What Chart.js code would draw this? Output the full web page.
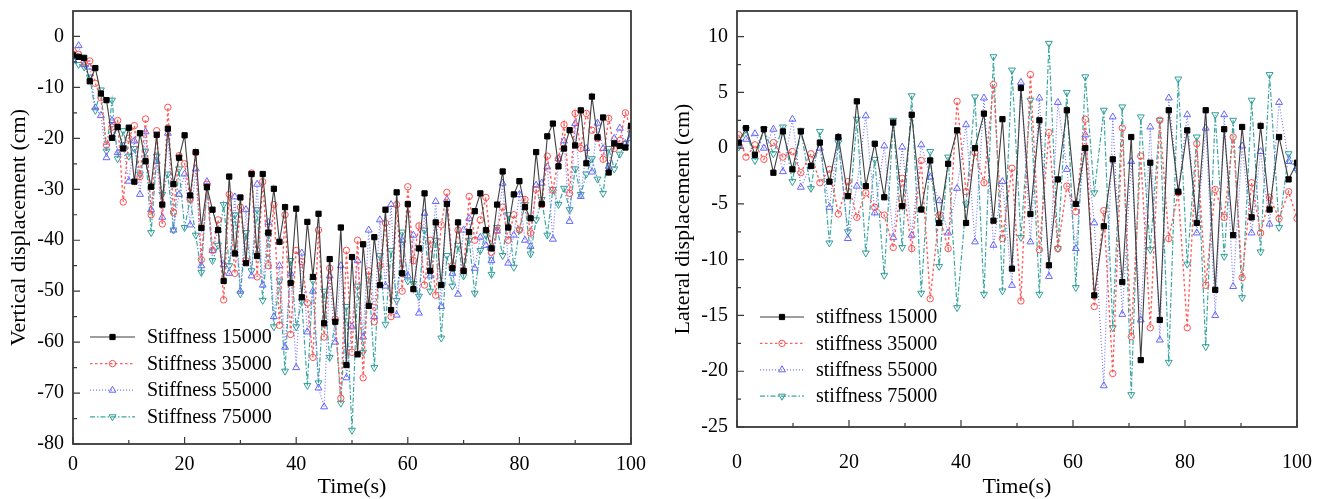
<!DOCTYPE html>
<html>
<head>
<meta charset="utf-8">
<script src="https://cdn.jsdelivr.net/npm/chart.js@4.4.0/dist/chart.umd.min.js"></script>
<style>
  html, body { margin: 0; padding: 0; background: #fff; }
  #wrap { position: relative; width: 1324px; height: 499px; }
  .panel { position: absolute; top: 0; height: 499px; }
  #left { left: 0; width: 660px; }
  #right { left: 660px; width: 664px; }
</style>
</head>
<body>
<div id="wrap">
  <div class="panel" id="left"><canvas id="cvVert" width="660" height="499"></canvas></div>
  <div class="panel" id="right"><canvas id="cvLat" width="664" height="499"></canvas></div>
</div>
<script>
/* ---------- vertical displacement (left panel) ---------- */
const timeVert = [0,1,2,3,4,5,6,7,8,9,10,11,12,13,14,15,16,17,18,19,20,21,22,23,24,25,26,27,28,29,30,
  31,32,33,34,35,36,37,38,39,40,41,42,43,44,45,46,47,48,49,50,51,52,53,54,55,56,57,58,59,60,
  61,62,63,64,65,66,67,68,69,70,71,72,73,74,75,76,77,78,79,80,81,82,83,84,85,86,87,88,89,90,
  91,92,93,94,95,96,97,98,99,100];

const vert15000 = [-3.7,-4.0,-4.2,-8.8,-6.2,-11.2,-12.5,-19.9,-17.8,-22.0,
  -17.9,-28.5,-19.0,-24.5,-29.5,-19.3,-33.0,-18.1,-29.0,-23.8,
  -19.4,-31.2,-22.7,-37.6,-29.6,-34.0,-38.0,-48.0,-27.5,-42.6,
  -31.6,-44.5,-27.0,-43.1,-27.0,-38.5,-29.9,-40.3,-33.5,-48.4,
  -33.8,-51.2,-36.4,-47.2,-34.8,-56.3,-43.7,-56.0,-37.5,-64.5,
  -43.3,-62.4,-40.8,-52.9,-39.4,-48.8,-34.0,-53.7,-30.6,-46.5,
  -32.9,-49.6,-41.6,-30.8,-46.0,-36.5,-48.8,-32.9,-45.5,-36.5,
  -46.0,-38.4,-34.3,-30.8,-38.0,-41.6,-33.0,-26.5,-37.5,-31.0,
  -28.4,-33.5,-35.7,-22.7,-32.9,-19.6,-17.1,-25.5,-22.0,-18.4,
  -21.4,-14.5,-24.9,-11.8,-19.8,-15.9,-26.7,-21.0,-21.5,-21.8,-17.6];

const vert35000 = [-2.8,-3.5,-5.0,-4.8,-9.2,-12.0,-21.3,-17.8,-16.5,-32.5,
  -20.0,-17.5,-27.5,-16.2,-35.0,-18.5,-36.8,-13.9,-34.5,-23.4,
  -25.0,-32.0,-22.8,-43.8,-29.0,-42.0,-36.0,-51.7,-31.0,-46.5,
  -33.5,-44.0,-26.8,-47.2,-28.5,-45.0,-33.0,-56.7,-35.0,-58.5,
  -42.0,-44.2,-52.3,-63.0,-38.0,-59.0,-45.5,-55.5,-71.0,-42.0,
  -62.0,-40.0,-67.0,-46.0,-56.0,-45.0,-36.6,-55.0,-33.0,-50.0,
  -29.5,-44.0,-37.2,-48.8,-40.0,-50.8,-37.0,-30.6,-45.0,-38.0,
  -46.0,-31.4,-40.0,-36.0,-31.6,-42.4,-38.0,-33.5,-40.0,-35.0,
  -38.0,-32.0,-38.6,-30.0,-33.0,-23.5,-30.2,-24.0,-17.3,-30.8,
  -15.1,-22.0,-15.1,-18.4,-20.0,-24.1,-16.1,-22.0,-20.4,-15.0,-18.0];

const vert55000 = [-4.5,-1.8,-5.5,-6.0,-14.0,-15.5,-23.8,-16.5,-22.8,-21.5,
  -28.4,-20.5,-31.0,-18.7,-34.0,-24.5,-35.5,-19.0,-38.0,-31.0,
  -27.0,-37.0,-26.0,-45.0,-28.5,-42.0,-38.0,-44.8,-46.5,-31.5,
  -50.0,-34.0,-47.0,-29.0,-48.8,-36.5,-55.0,-45.0,-61.0,-46.5,
  -65.0,-42.5,-58.0,-50.0,-69.0,-72.7,-47.0,-60.0,-45.0,-67.0,
  -57.0,-44.0,-59.0,-38.0,-55.0,-36.0,-49.0,-33.0,-54.7,-40.0,
  -47.0,-39.0,-54.3,-34.7,-47.0,-32.4,-53.0,-32.0,-46.5,-50.6,
  -38.0,-35.7,-45.5,-39.4,-41.0,-44.0,-38.2,-28.8,-44.5,-39.0,
  -31.0,-40.0,-41.2,-29.2,-28.8,-25.6,-39.8,-24.0,-20.5,-36.3,
  -17.1,-31.4,-22.0,-26.6,-17.0,-22.0,-25.5,-20.0,-18.0,-21.0,-20.0];

const vert75000 = [-4.8,-5.5,-6.0,-8.0,-14.5,-10.5,-22.5,-12.5,-24.0,-18.5,
  -23.5,-22.0,-27.0,-22.5,-38.5,-23.5,-31.0,-27.0,-38.0,-26.0,
  -37.5,-32.0,-39.0,-46.3,-29.5,-44.0,-41.0,-33.0,-45.0,-35.0,
  -50.5,-38.5,-46.0,-34.0,-51.8,-39.0,-57.0,-48.0,-65.7,-44.0,
  -57.0,-52.0,-68.5,-48.0,-68.0,-50.0,-63.0,-56.0,-72.0,-53.0,
  -77.3,-49.0,-62.0,-47.0,-65.0,-43.0,-56.5,-42.0,-51.8,-38.4,
  -48.0,-48.5,-51.0,-38.0,-50.0,-40.0,-59.2,-43.0,-49.0,-41.0,
  -47.0,-40.0,-50.4,-42.0,-39.0,-46.7,-37.5,-43.0,-35.0,-45.3,
  -38.0,-33.0,-42.7,-36.0,-32.0,-39.0,-30.0,-33.0,-29.8,-34.0,
  -26.0,-31.0,-27.0,-24.0,-28.0,-30.8,-22.0,-26.0,-23.1,-21.0,-19.0];

const vertLabels = ["Stiffness 15000", "Stiffness 35000", "Stiffness 55000", "Stiffness 75000"];
const vertTicks = [0, -10, -20, -30, -40, -50, -60, -70, -80];
const vertMinor = [-5, -15, -25, -35, -45, -55, -65, -75];

/* ---------- lateral displacement (right panel) ---------- */
const timeLat = [0.3,1.6,3.2,4.8,6.5,8.2,9.9,11.4,13.2,14.8,16.5,18.1,19.8,21.4,23.0,24.6,
  26.3,27.9,29.5,31.2,32.9,34.5,36.1,37.7,39.3,40.9,42.5,44.1,45.8,47.4,49.1,50.7,
  52.4,54.0,55.7,57.3,58.9,60.5,62.2,63.8,65.5,67.1,68.8,70.4,72.1,73.8,75.5,77.1,
  78.8,80.4,82.1,83.7,85.4,87.0,88.6,90.2,91.9,93.5,95.1,96.8,98.5,100.0];

const lat15000 = [0.5,1.8,-0.6,1.7,-2.2,1.5,-1.9,1.5,-1.6,0.5,
  -3.0,1.0,-4.3,4.2,-3.4,0.4,-4.4,2.3,-5.2,3.0,
  -5.5,-1.1,-6.7,-1.4,1.6,-6.7,0.0,3.1,-6.5,2.6,
  -10.8,5.4,-5.9,2.5,-10.5,-2.8,3.4,-5.0,0.0,-13.2,
  -7.0,-1.0,-12.0,1.0,-19.0,-1.3,-15.4,3.4,-3.9,1.6,
  -6.7,3.4,-12.7,1.7,-7.8,1.9,-6.2,2.0,-5.5,1.0,-2.8,-1.3];

const lat35000 = [1.2,-0.8,0.3,-1.0,0.5,-0.8,-0.3,-2.2,-0.5,-3.1,
  -1.9,-5.9,-3.0,-6.2,-4.0,-5.3,-6.0,-8.9,-2.7,-9.0,
  -1.1,-13.5,-6.0,-9.0,4.2,-3.9,-0.4,-3.1,5.7,-8.1,
  -1.8,-13.7,6.6,-9.1,1.4,-9.0,-3.4,-5.7,2.6,-14.2,
  -5.6,-20.2,1.8,-16.9,-0.7,-16.1,2.5,-8.1,-4.0,-16.1,
  0.4,-12.3,-3.7,-6.2,1.0,-11.6,-3.1,-7.6,-4.4,-6.3,-3.9,-6.3];

const lat55000 = [0.3,0.8,1.3,0.0,1.7,-2.1,2.6,-3.5,-1.6,0.0,
  -5.3,1.0,-8.1,-3.4,2.9,-5.8,0.2,-8.0,0.1,-7.8,
  0.3,-2.6,-4.7,-7.6,-3.6,2.1,-8.4,4.5,-8.7,-3.0,
  -12.3,5.9,-8.4,4.5,-11.5,4.1,-1.9,-9.0,1.2,-6.7,
  -21.3,2.8,-14.9,-1.2,-15.4,1.9,-17.2,4.5,-3.9,3.0,
  -7.6,1.8,-15.0,3.0,-12.4,0.2,-7.6,-0.3,-6.8,4.1,-1.2,-1.8];

const lat75000 = [0.1,1.7,-1.1,1.7,-0.5,1.9,-3.0,1.6,-3.6,1.5,
  -8.5,0.5,-7.5,2.6,-9.4,-1.0,-11.4,2.5,-8.9,4.7,
  -13.0,-0.3,-10.6,-0.8,-14.3,-5.0,4.6,-13.1,8.2,-12.8,
  7.0,-8.0,4.3,-13.1,9.4,-9.0,5.0,-12.5,6.4,-4.0,
  3.4,-16.1,3.7,-22.1,2.8,-9.1,2.5,-19.2,6.2,-10.4,
  1.0,-17.8,3.0,-9.7,2.5,-13.4,4.3,-9.3,6.6,-7.1,-0.5,-2.0];

const latLabels = ["stiffness 15000", "stiffness 35000", "stiffness 55000", "stiffness 75000"];
const latTicks = [10, 5, 0, -5, -10, -15, -20, -25];
const latMinor = [7.5, 2.5, -2.5, -7.5, -12.5, -17.5, -22.5];

const timeTicks = [0, 20, 40, 60, 80, 100];
const timeMinor = [10, 30, 50, 70, 90];

/* ---------- styles ---------- */
const FONT = "'Liberation Serif', 'Times New Roman', serif";

const seriesLook = [
  { line: "#3f3f3f", width: 1.1, dash: [], point: "rect", rot: 0, r: 3.7, fill: "#000", edge: "#000" },
  { line: "#ff5c5c", width: 1.4, dash: [2.5, 2.5], point: "circle", rot: 0, r: 3.2, fill: "rgba(255,255,255,0)", edge: "#ff4f4f" },
  { line: "#7a7aff", width: 1.2, dash: [1, 2], point: "triangle", rot: 0, r: 4, fill: "rgba(255,255,255,0)", edge: "#6464ff" },
  { line: "#3aa6a0", width: 1.2, dash: [5, 2, 1.5, 2], point: "triangle", rot: 180, r: 4, fill: "rgba(255,255,255,0)", edge: "#2f9d97" }
];

/* frame + inward tick marks */
const frameTicks = {
  id: "frameTicks",
  afterDatasetsDraw(chart, args, o) {
    const { ctx, chartArea: a, scales: { x, y } } = chart;
    ctx.save();
    ctx.strokeStyle = "#3a3a3a";
    ctx.lineWidth = 1.2;
    ctx.beginPath();
    o.xMajor.forEach(v => { const p = x.getPixelForValue(v); ctx.moveTo(p, a.bottom); ctx.lineTo(p, a.bottom - 7); });
    o.xMinor.forEach(v => { const p = x.getPixelForValue(v); ctx.moveTo(p, a.bottom); ctx.lineTo(p, a.bottom - 4); });
    o.yMajor.forEach(v => { const p = y.getPixelForValue(v); ctx.moveTo(a.left, p); ctx.lineTo(a.left + 7, p); });
    o.yMinor.forEach(v => { const p = y.getPixelForValue(v); ctx.moveTo(a.left, p); ctx.lineTo(a.left + 4, p); });
    ctx.stroke();
    ctx.lineWidth = 1.8;
    ctx.strokeRect(a.left, a.top, a.right - a.left, a.bottom - a.top);
    ctx.restore();
  }
};

/* legend drawn inside the plot area */
const insideLegend = {
  id: "insideLegend",
  afterDraw(chart, args, o) {
    const ctx = chart.ctx;
    ctx.save();
    chart.data.datasets.forEach((ds, i) => {
      const y = o.top + i * o.gap;
      ctx.strokeStyle = ds.borderColor;
      ctx.lineWidth = ds.borderWidth;
      ctx.setLineDash(ds.borderDash);
      ctx.beginPath();
      ctx.moveTo(o.x, y);
      ctx.lineTo(o.x + o.len, y);
      ctx.stroke();
      ctx.setLineDash([]);
      ctx.fillStyle = ds.pointBackgroundColor;
      ctx.strokeStyle = ds.pointBorderColor;
      ctx.lineWidth = 1;
      Chart.helpers.drawPoint(ctx, {
        pointStyle: ds.pointStyle, rotation: ds.pointRotation, radius: ds.pointRadius, borderWidth: 1
      }, o.x + o.len / 2, y);
      ctx.fillStyle = "#000";
      ctx.font = "20px " + FONT;
      ctx.textBaseline = "middle";
      ctx.textAlign = "left";
      ctx.fillText(ds.label, o.textX, y + 1);
    });
    ctx.restore();
  }
};

function makeDatasets(time, series, labels) {
  return series.map((vals, i) => {
    const s = seriesLook[i];
    return {
      label: labels[i],
      data: time.map((t, j) => ({ x: t, y: vals[j] })),
      borderColor: s.line,
      borderWidth: s.width,
      borderDash: s.dash,
      pointStyle: s.point,
      pointRotation: s.rot,
      pointRadius: s.r,
      pointBackgroundColor: s.fill,
      pointBorderColor: s.edge,
      pointBorderWidth: 1,
      tension: 0
    };
  });
}

function buildPanel(canvas, cfg) {
  return new Chart(canvas, {
    type: "line",
    data: { datasets: makeDatasets(cfg.time, cfg.series, cfg.labels) },
    plugins: [frameTicks, insideLegend],
    options: {
      responsive: false,
      animation: false,
      events: [],
      layout: { autoPadding: false, padding: { top: 11, right: cfg.padRight, bottom: 0, left: 0 } },
      plugins: {
        legend: { display: false },
        tooltip: { enabled: false },
        frameTicks: { xMajor: timeTicks, xMinor: timeMinor, yMajor: cfg.yTicks, yMinor: cfg.yMinor },
        insideLegend: cfg.legend
      },
      scales: {
        x: {
          type: "linear",
          min: 0,
          max: 100,
          grid: { display: false, drawTicks: false },
          border: { display: false },
          afterBuildTicks: s => { s.ticks = timeTicks.map(v => ({ value: v })); },
          afterFit: s => { s.height = cfg.xHeight; s.paddingLeft = 0; s.paddingRight = 0; },
          ticks: { color: "#000", padding: cfg.xPad, maxRotation: 0, font: { family: FONT, size: 20 } },
          title: {
            display: true, text: "Time(s)", color: "#000", padding: { top: 0, bottom: 0 },
            font: { family: FONT, size: 22, lineHeight: 1.1 }
          }
        },
        y: {
          min: cfg.yMin,
          max: cfg.yMax,
          grid: { display: false, drawTicks: false },
          border: { display: false },
          afterBuildTicks: s => { s.ticks = cfg.yTicks.map(v => ({ value: v })); },
          afterFit: s => { s.width = cfg.yWidth; s.paddingTop = 0; s.paddingBottom = 0; },
          ticks: { color: "#000", padding: 9, font: { family: FONT, size: 20 } },
          title: {
            display: true, text: cfg.yTitle, color: "#000", padding: { top: cfg.yTitlePad, bottom: 0 },
            font: { family: FONT, size: 22, lineHeight: 1.1 }
          }
        }
      }
    }
  });
}

buildPanel(document.getElementById("cvVert"), {
  time: timeVert,
  series: [vert15000, vert35000, vert55000, vert75000],
  labels: vertLabels,
  yTicks: vertTicks, yMinor: vertMinor,
  yMin: -80, yMax: 5,
  yTitle: "Vertical displacement (cm)",
  yWidth: 73, yTitlePad: 7,
  xHeight: 55, xPad: 9, padRight: 29,
  legend: { x: 90, len: 45, textX: 147, top: 337, gap: 26.6 }
});

buildPanel(document.getElementById("cvLat"), {
  time: timeLat,
  series: [lat15000, lat35000, lat55000, lat75000],
  labels: latLabels,
  yTicks: latTicks, yMinor: latMinor,
  yMin: -25, yMax: 12.3,
  yTitle: "Lateral displacement (cm)",
  yWidth: 77, yTitlePad: 11,
  xHeight: 72, xPad: 24, padRight: 27,
  legend: { x: 100, len: 44, textX: 156, top: 317, gap: 26.4 }
});
</script>
</body>
</html>
